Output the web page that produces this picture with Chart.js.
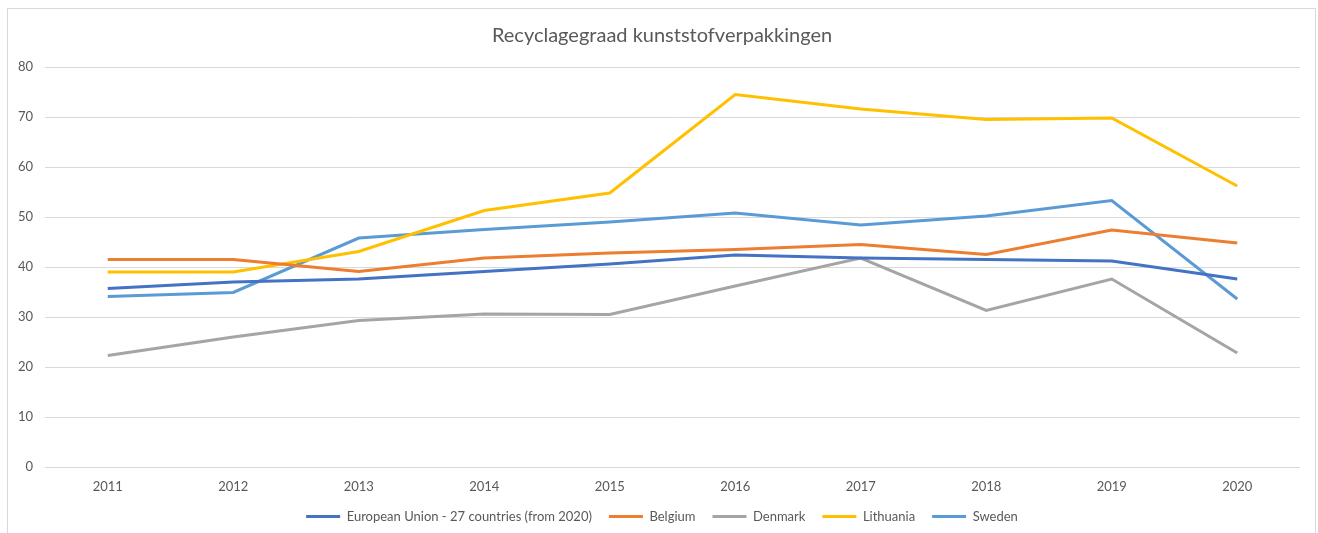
<!DOCTYPE html>
<html>
<head>
<meta charset="utf-8">
<script src="https://cdn.jsdelivr.net/npm/chart.js@4"></script>
<style>
  html, body { margin: 0; padding: 0; background: #ffffff; }
  #wrap { width: 1318px; height: 533px; }
</style>
</head>
<body>
<div id="wrap"><canvas id="c" width="1318" height="533"></canvas></div>
<script>
const years = ['2011','2012','2013','2014','2015','2016','2017','2018','2019','2020'];
const euValues        = [35.7, 37.0, 37.6, 39.1, 40.6, 42.4, 41.8, 41.5, 41.2, 37.6];
const belgiumValues   = [41.5, 41.5, 39.1, 41.8, 42.8, 43.5, 44.5, 42.5, 47.4, 44.8];
const denmarkValues   = [22.3, 26.0, 29.3, 30.6, 30.5, 36.2, 41.8, 31.3, 37.6, 22.8];
const lithuaniaValues = [39.0, 39.0, 43.1, 51.3, 54.8, 74.5, 71.6, 69.5, 69.8, 56.2];
const swedenValues    = [34.1, 34.9, 45.8, 47.5, 49.0, 50.8, 48.4, 50.2, 53.3, 33.6];
const seriesNames = ['European Union - 27 countries (from 2020)', 'Belgium', 'Denmark', 'Lithuania', 'Sweden'];
const titleText = 'Recyclagegraad kunststofverpakkingen';

const colors = ['#4472C4', '#ED7D31', '#A5A5A5', '#FFC000', '#5B9BD5'];
const allValues = [euValues, belgiumValues, denmarkValues, lithuaniaValues, swedenValues];

const borderPlugin = {
  id: 'outerBorder',
  beforeDraw(chart) {
    const ctx = chart.ctx;
    ctx.save();
    ctx.strokeStyle = '#d9d9d9';
    ctx.lineWidth = 1;
    ctx.strokeRect(7.5, 8.5, 1308, 540);
    ctx.restore();
  }
};

const FONT = 'Lato, "Open Sans", sans-serif';
const TXT = '#595959';

new Chart(document.getElementById('c'), {
  type: 'line',
  data: {
    labels: years,
    datasets: allValues.map((vals, i) => ({
      label: seriesNames[i],
      data: vals,
      borderColor: colors[i],
      backgroundColor: colors[i],
      borderWidth: 3,
      pointRadius: 0,
      pointHoverRadius: 0,
      tension: 0,
      fill: false
    }))
  },
  options: {
    responsive: false,
    animation: false,
    layout: { padding: { left: 6, right: 0, top: 0, bottom: 0 } },
    plugins: {
      title: {
        display: true,
        text: titleText,
        color: TXT,
        font: { family: FONT, size: 20, weight: 'normal' },
        padding: { top: 24, bottom: 19 }
      },
      legend: {
        position: 'bottom',
        labels: {
          color: TXT,
          font: { family: FONT, size: 13 },
          usePointStyle: true,
          pointStyle: 'line',
          pointStyleWidth: 34,
          boxHeight: 3,
          padding: 17
        }
      },
      tooltip: { enabled: false }
    },
    scales: {
      x: {
        offset: true,
        grid: { display: false, drawTicks: false },
        border: { display: false },
        ticks: { color: TXT, font: { family: FONT, size: 13, lineHeight: 1 }, padding: 13, maxRotation: 0 },
        afterFit(scale) { scale.height = 26; }
      },
      y: {
        min: 0,
        max: 80,
        grid: { color: '#d9d9d9', lineWidth: 1, drawTicks: false },
        border: { display: false },
        ticks: { stepSize: 10, color: TXT, font: { family: FONT, size: 13 }, padding: 12 },
        afterFit(scale) { scale.width = 39; }
      },
      yRight: {
        position: 'right',
        min: 0,
        max: 80,
        grid: { display: false, drawTicks: false },
        border: { display: false },
        ticks: { display: false },
        afterFit(scale) { scale.width = 18; }
      }
    }
  },
  plugins: [borderPlugin]
});
</script>
</body>
</html>
